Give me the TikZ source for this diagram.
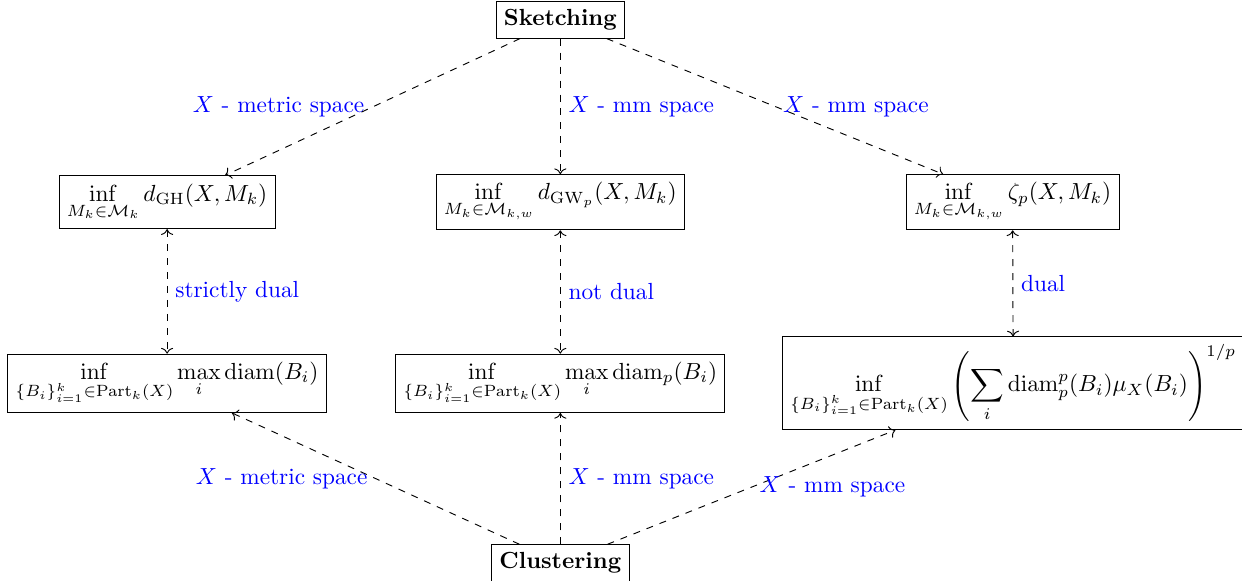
\documentclass[tikz,border=0pt]{standalone}
\usepackage{amsmath}
\usepackage{amssymb}
\usepackage{tikz}
\usetikzlibrary{arrows.meta,positioning,calc}

\begin{document}
\begin{tikzpicture}[
  box/.style={draw, align=center},
  lnk/.style={->, dashed},
  dual/.style={<->, dashed},
  lbl/.style={text=blue},
]
  \useasboundingbox (0,0) rectangle (18.73,-8.76);

  \node[box, font=\bfseries] (sk) at (8.45,-0.30) {Sketching};
  \node[box, font=\bfseries] (cl) at (8.45,-8.49) {Clustering};

  \node[box] (gh) at (2.52,-3.05)
    {$\displaystyle\inf_{M_k\in\mathcal{M}_k} d_{\mathrm{GH}}(X,M_k)$};
  \node[box] (gw) at (8.45,-3.05)
    {$\displaystyle\inf_{M_k\in\mathcal{M}_{k,w}} d_{\mathrm{GW}_p}(X,M_k)$};
  \node[box] (zt) at (15.27,-3.05)
    {$\displaystyle\inf_{M_k\in\mathcal{M}_{k,w}} \zeta_p(X,M_k)$};

  \node[box] (kc) at (2.52,-5.78)
    {$\displaystyle\inf_{\{B_i\}_{i=1}^k\in\mathrm{Part}_k(X)} \max_i \mathrm{diam}(B_i)$};
  \node[box] (kp) at (8.45,-5.78)
    {$\displaystyle\inf_{\{B_i\}_{i=1}^k\in\mathrm{Part}_k(X)} \max_i \mathrm{diam}_p(B_i)$};
  \node[box] (km) at (15.28,-5.78)
    {$\displaystyle\inf_{\{B_i\}_{i=1}^k\in\mathrm{Part}_k(X)}
      \left(\sum_i \mathrm{diam}_p^p(B_i)\mu_X(B_i)\right)^{1/p}$};

  % sketching side
  \draw[lnk] (sk) -- (gh) node[lbl, midway, left]{$X$ - metric space};
  \draw[lnk] (sk) -- (gw) node[lbl, midway, right]{$X$ - mm space};
  \draw[lnk] (sk) -- (zt) node[lbl, midway, right]{$X$ - mm space};

  % duality
  \draw[dual] (gh) -- (kc) node[lbl, midway, right]{strictly dual};
  \draw[dual] (gw) -- (kp) node[lbl, midway, right]{not dual};
  \draw[dual] (zt) -- (km) node[lbl, midway, right]{dual};

  % clustering side
  \draw[lnk] (cl) -- (kc) node[lbl, midway, left]{$X$ - metric space};
  \draw[lnk] (cl) -- (kp) node[lbl, midway, right]{$X$ - mm space};
  \draw[lnk] (cl) -- (km) node[lbl, midway, right]{$X$ - mm space};
\end{tikzpicture}
\end{document}
